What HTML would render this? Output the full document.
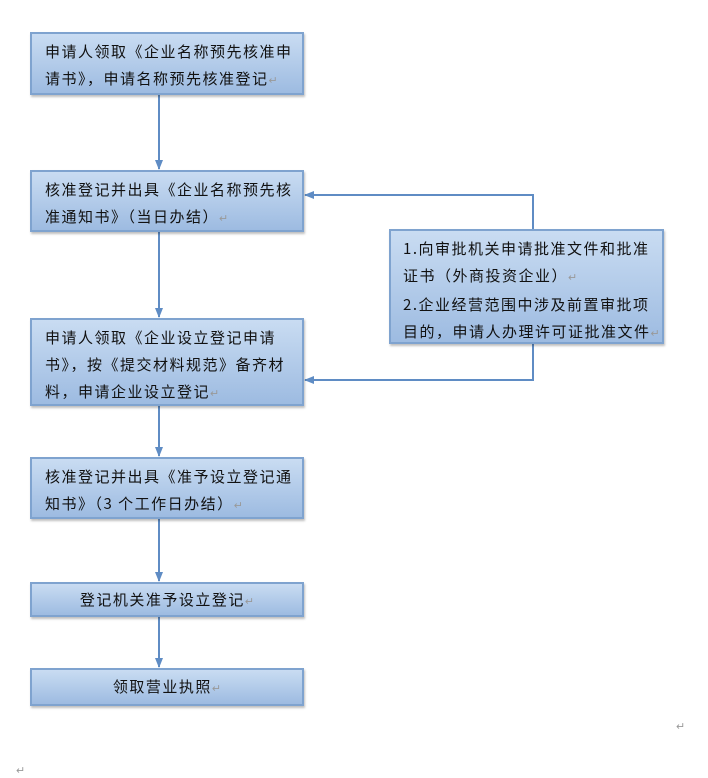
<!DOCTYPE html>
<html><head><meta charset="utf-8"><style>
body{margin:0;width:708px;height:775px;background:#fff;position:relative;font-family:"Noto Sans CJK SC","Liberation Sans",sans-serif;}
.b{position:absolute;box-sizing:border-box;border:2px solid #7fa3cf;background:linear-gradient(#c9dcf2,#9dbbe1);box-shadow:1px 2px 2px rgba(0,0,0,0.25);font-size:15px;line-height:27px;color:#111;padding:4px 0 0 13px;letter-spacing:1.5px;white-space:nowrap}
.c{text-align:center;padding:0}
.m{color:#999;font-size:11px;letter-spacing:0}
svg{position:absolute;left:0;top:0}
</style></head><body>
<svg width="708" height="775">
<defs><marker id="a" markerWidth="10" markerHeight="10" refX="9" refY="5" orient="auto" markerUnits="userSpaceOnUse"><path d="M0,1 L10,5 L0,9 z" fill="#5f8cc4"/></marker></defs>
<g stroke="#5f8cc4" stroke-width="2" fill="none">
<line x1="159" y1="94" x2="159" y2="169" marker-end="url(#a)"/>
<line x1="159" y1="231" x2="159" y2="317" marker-end="url(#a)"/>
<line x1="159" y1="405" x2="159" y2="456" marker-end="url(#a)"/>
<line x1="159" y1="518" x2="159" y2="581" marker-end="url(#a)"/>
<line x1="159" y1="616" x2="159" y2="667" marker-end="url(#a)"/>
<polyline points="533,229 533,195 305,195" marker-end="url(#a)"/>
<polyline points="533,343 533,380 305,380" marker-end="url(#a)"/>
</g></svg>
<div class="b" style="left:30px;top:32px;width:274px;height:63px">申请人领取《企业名称预先核准申<br>请书》，申请名称预先核准登记<span class="m">↵</span></div>
<div class="b" style="left:30px;top:170px;width:274px;height:62px">核准登记并出具《企业名称预先核<br>准通知书》（当日办结）<span class="m">↵</span></div>
<div class="b" style="left:30px;top:318px;width:274px;height:88px">申请人领取《企业设立登记申请<br>书》，按《提交材料规范》备齐材<br>料，申请企业设立登记<span class="m">↵</span></div>
<div class="b" style="left:30px;top:457px;width:274px;height:62px">核准登记并出具《准予设立登记通<br>知书》（3 个工作日办结）<span class="m">↵</span></div>
<div class="b c" style="left:30px;top:582px;width:274px;height:35px;line-height:31px">登记机关准予设立登记<span class="m">↵</span></div>
<div class="b c" style="left:30px;top:668px;width:274px;height:38px;line-height:34px">领取营业执照<span class="m">↵</span></div>
<div class="b" style="left:389px;top:229px;width:275px;height:115px;padding-left:12px">1.向审批机关申请批准文件和批准<br>证书（外商投资企业）<span class="m">↵</span><br>2.企业经营范围中涉及前置审批项<br>目的，申请人办理许可证批准文件<span class="m">↵</span></div>
<div class="m" style="position:absolute;left:676px;top:718px">↵</div>
<div class="m" style="position:absolute;left:16px;top:762px">↵</div>
</body></html>
